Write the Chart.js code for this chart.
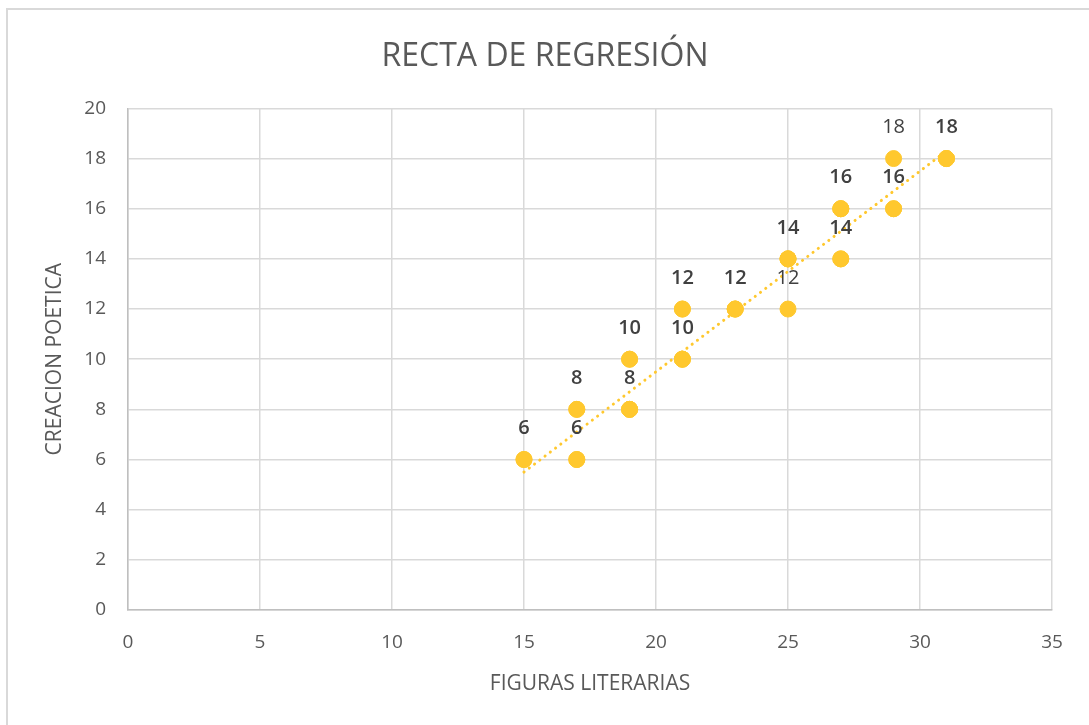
<!DOCTYPE html>
<html><head><meta charset="utf-8">
<script src="https://cdn.jsdelivr.net/npm/chart.js@4/dist/chart.umd.min.js"></script>
<style>
html,body{margin:0;padding:0;background:#fff;width:1089px;height:725px;overflow:hidden;}
#wrap{position:absolute;left:0;top:0;width:1089px;height:725px;}
#frame{position:absolute;left:6px;top:8px;width:1100px;height:740px;border:2px solid #d9d9d9;box-sizing:border-box;pointer-events:none;}
</style></head>
<body>
<div id="wrap"><canvas id="c" width="1089" height="725"></canvas></div>
<div id="frame"></div>
<script>
// Data (duplicates represent overlapping observations)
const figurasLiterarias = [15,15, 17,17, 17,17, 19,19,19, 19,19, 21,21,21, 21,21, 23,23,23, 25, 25,25,25, 27,27, 27,27,27, 29,29, 29, 31,31,31];
const creacionPoetica   = [ 6, 6,  6, 6,  8, 8,  8, 8, 8, 10,10, 10,10,10, 12,12, 12,12,12, 12, 14,14,14, 14,14, 16,16,16, 16,16, 18, 18,18,18];
const trendX = [15, 31];
const trendY = [5.5, 18.3];
const xTicks = [0,5,10,15,20,25,30,35];
const yTicks = [0,2,4,6,8,10,12,14,16,18,20];

const points = figurasLiterarias.map((x,i)=>({x:x,y:creacionPoetica[i]}));
const trend = trendX.map((x,i)=>({x:x,y:trendY[i]}));

const FONT = '"Open Sans", "Liberation Sans", sans-serif';

const labelPlugin = {
  id:'pointLabels',
  afterDatasetsDraw(chart){
    const ctx = chart.ctx;
    const meta = chart.getDatasetMeta(0);
    const groups = {};
    meta.data.forEach((el,i)=>{
      const k = figurasLiterarias[i]+'_'+creacionPoetica[i];
      if(!groups[k]) groups[k] = {el:el, v:creacionPoetica[i], n:0};
      groups[k].n++;
    });
    ctx.save();
    ctx.fillStyle = '#404040';
    ctx.textAlign = 'center';
    ctx.textBaseline = 'middle';
    Object.values(groups).forEach(g=>{
      ctx.font = (g.n>1 ? '600 ' : '') + '20px ' + FONT;
      ctx.fillText(String(g.v), g.el.x, g.el.y - 31);
    });
    ctx.restore();
  }
};

const grid = {color:'#d9d9d9', lineWidth:1.5, drawTicks:false};
const tickFont = {family:FONT, size:19};

new Chart(document.getElementById('c'), {
  type:'scatter',
  data:{datasets:[
    {label:'CREACION POETICA', data:points, backgroundColor:'#FFC82E', borderColor:'#FFC82E', pointRadius:8, pointHoverRadius:8, order:2},
    {type:'line', label:'Tendencia', data:trend, borderColor:'#FFC82E', borderWidth:3, borderDash:[0.1,6.5], borderCapStyle:'round', pointRadius:0, fill:false, order:1}
  ]},
  plugins:[labelPlugin],
  options:{
    responsive:false, animation:false,
    layout:{padding:{left:38,right:37,top:0,bottom:24}},
    plugins:{
      legend:{display:false}, tooltip:{enabled:false},
      title:{display:true, text:'RECTA DE REGRESIÓN', color:'#595959',
        font:{family:FONT, size:32, weight:'normal'},
        padding:{top:38,bottom:32}}
    },
    scales:{
      x:{type:'linear', min:0, max:35,
        afterBuildTicks(s){ s.ticks = xTicks.map(v=>({value:v})); },
        afterFit(s){ s.height = 91; },
        grid:grid, border:{color:'#bfbfbf', width:1.5},
        ticks:{color:'#595959', font:tickFont, padding:21},
        title:{display:true, text:'FIGURAS LITERARIAS', color:'#595959', font:{family:FONT, size:21}, padding:{top:12}}
      },
      y:{type:'linear', min:0, max:20,
        afterBuildTicks(s){ s.ticks = yTicks.map(v=>({value:v})); },
        afterFit(s){ s.width = 90; },
        grid:grid, border:{color:'#bfbfbf', width:1.5},
        ticks:{color:'#595959', font:tickFont, padding:22},
        title:{display:true, text:'CREACION POETICA', color:'#595959', font:{family:FONT, size:21}, padding:{bottom:4}}
      }
    }
  }
});
</script>
</body></html>
